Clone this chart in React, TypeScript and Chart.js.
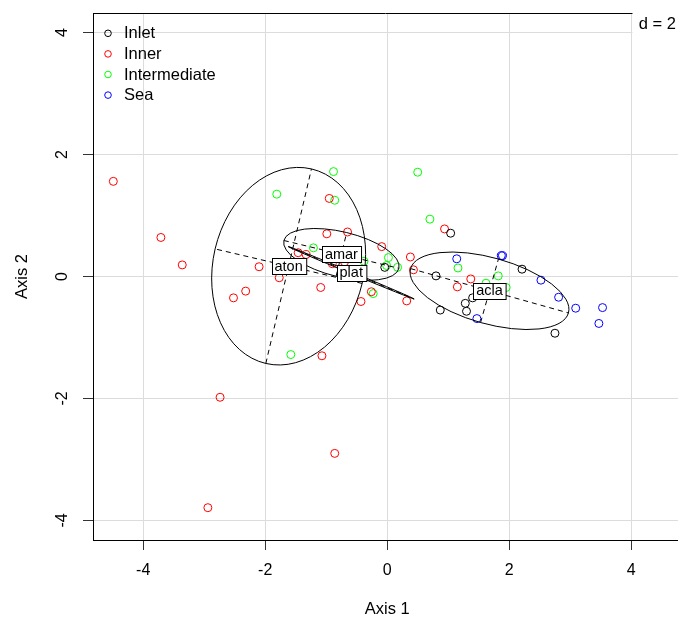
import React, { useEffect, useRef } from 'react';
import { Chart, registerables } from 'chart.js';

Chart.register(...registerables);

// ---------- data ----------
const groupNames = ['Inlet', 'Inner', 'Intermediate', 'Sea'];
const groupColors = ['#000000', '#FF0000', '#00FF00', '#0000FF'];

const inletPoints: [number, number][] = [
  [-0.04, 0.15], [1.04, 0.71], [0.80, 0.01], [2.21, 0.12], [1.40, -0.35],
  [1.28, -0.44], [1.30, -0.57], [0.87, -0.55], [2.75, -0.93],
];
const innerPoints: [number, number][] = [
  [-4.49, 1.56], [-3.71, 0.64], [-3.36, 0.19], [-2.94, -3.79], [-2.74, -1.98],
  [-2.52, -0.35], [-2.32, -0.24], [-2.10, 0.16], [-1.77, -0.02], [-1.46, 0.39],
  [-1.33, 0.36], [-1.09, -0.18], [-0.95, 1.28], [-0.99, 0.70], [-0.65, 0.73],
  [-0.90, 0.21], [-0.70, 0.24], [-0.09, 0.49], [0.38, 0.32], [0.43, 0.11],
  [-0.26, -0.25], [-0.43, -0.41], [0.32, -0.40], [-1.07, -1.30], [-0.86, -2.90],
  [0.94, 0.78], [1.37, -0.04], [1.15, -0.17],
];
const intermediatePoints: [number, number][] = [
  [-1.81, 1.35], [-0.88, 1.72], [-0.86, 1.25], [0.50, 1.71], [0.70, 0.94],
  [-1.21, 0.47], [0.02, 0.31], [-0.01, 0.18], [0.17, 0.15], [-0.38, 0.25],
  [-0.23, -0.28], [-1.58, -1.28], [1.16, 0.14], [1.82, 0.01], [1.62, -0.11],
  [1.95, -0.18],
];
const seaPoints: [number, number][] = [
  [1.14, 0.29], [1.87, 0.34], [1.89, 0.34], [2.52, -0.06], [2.81, -0.34],
  [3.09, -0.52], [3.53, -0.51], [3.47, -0.77], [1.47, -0.69],
];
const groupPoints = [inletPoints, innerPoints, intermediatePoints, seaPoints];

// class ellipses
const ellipseNames = ['aton', 'amar', 'plat', 'acla'];
const ellipseCenterX = [-1.616, -0.751, -0.590, 1.677];
const ellipseCenterY = [0.169, 0.362, 0.061, -0.234];
const ellipseMajor = [1.638, 0.970, 1.117, 1.344];
const ellipseMinor = [1.238, 0.369, 0.015, 0.541];
const ellipseAngleDeg = [76.8, -13.6, -22.6, -15.7];

const xTicks = [-4, -2, 0, 2, 4];
const yTicks = [-4, -2, 0, 2, 4];
const xTickLabels = ['-4', '-2', '0', '2', '4'];
const yTickLabels = ['-4', '-2', '0', '2', '4'];
const xTitle = 'Axis 1';
const yTitle = 'Axis 2';
const scaleNote = 'd = 2';

const X_MIN = -4.823;
const X_MAX = 4.767;
const Y_MIN = -4.32;
const Y_MAX = 4.32;

const FONT = '"Liberation Sans", Arial, Helvetica, sans-serif';

const decorPlugin = {
  id: 'decor',
  afterDatasetsDraw(chart: any) {
    const { ctx, chartArea } = chart;
    const xs = chart.scales.x;
    const ys = chart.scales.y;
    ctx.save();
    ctx.beginPath();
    ctx.rect(chartArea.left, chartArea.top, chartArea.right - chartArea.left, chartArea.bottom - chartArea.top);
    ctx.clip();
    ctx.strokeStyle = '#000';
    ctx.lineWidth = 1;
    for (let i = 0; i < ellipseNames.length; i++) {
      const th = (ellipseAngleDeg[i] * Math.PI) / 180;
      const ex = ellipseCenterX[i];
      const ey = ellipseCenterY[i];
      const a = ellipseMajor[i];
      const b = ellipseMinor[i];
      const cx = xs.getPixelForValue(ex);
      const cy = ys.getPixelForValue(ey);
      const ax = xs.getPixelForValue(ex + a * Math.cos(th)) - cx;
      const ay = ys.getPixelForValue(ey + a * Math.sin(th)) - cy;
      const bx = xs.getPixelForValue(ex - b * Math.sin(th)) - cx;
      const by = ys.getPixelForValue(ey + b * Math.cos(th)) - cy;
      const ra = Math.hypot(ax, ay);
      const rb = Math.max(Math.hypot(bx, by), 0.3);
      const rot = Math.atan2(ay, ax);
      ctx.setLineDash([]);
      ctx.beginPath();
      ctx.ellipse(cx, cy, ra, rb, rot, 0, Math.PI * 2);
      ctx.stroke();
      ctx.setLineDash([5, 4]);
      ctx.beginPath();
      ctx.moveTo(cx - ax, cy - ay);
      ctx.lineTo(cx + ax, cy + ay);
      ctx.moveTo(cx - bx, cy - by);
      ctx.lineTo(cx + bx, cy + by);
      ctx.stroke();
    }
    ctx.setLineDash([]);
    // labels
    ctx.font = `14.5px ${FONT}`;
    ctx.textAlign = 'center';
    ctx.textBaseline = 'middle';
    for (let i = 0; i < ellipseNames.length; i++) {
      const cx = xs.getPixelForValue(ellipseCenterX[i]);
      const cy = ys.getPixelForValue(ellipseCenterY[i]);
      const tw = ctx.measureText(ellipseNames[i]).width;
      const w = tw + 6;
      const h = 16;
      const l = Math.round(cx - w / 2) + 0.5;
      const t = Math.round(cy - h / 2) + 0.5;
      ctx.fillStyle = '#fff';
      ctx.fillRect(l, t, w, h);
      ctx.strokeStyle = '#000';
      ctx.strokeRect(l, t, w, h);
      ctx.fillStyle = '#000';
      ctx.fillText(ellipseNames[i], cx, cy + 0.5);
    }
    ctx.restore();
  },
  afterDraw(chart: any) {
    const { ctx, chartArea } = chart;
    const xs = chart.scales.x;
    const ys = chart.scales.y;
    ctx.save();
    // top border
    ctx.strokeStyle = '#000';
    ctx.lineWidth = 1;
    ctx.beginPath();
    ctx.moveTo(chartArea.left, Math.round(chartArea.top) + 0.5);
    ctx.lineTo(chartArea.right, Math.round(chartArea.top) + 0.5);
    ctx.stroke();
    // d = 2 box
    ctx.fillStyle = '#fff';
    ctx.fillRect(632.5, 11, 50, 25);
    ctx.fillStyle = '#000';
    ctx.font = `16.5px ${FONT}`;
    ctx.textAlign = 'right';
    ctx.textBaseline = 'middle';
    ctx.fillText(scaleNote, 676, 24);
    // legend
    ctx.textAlign = 'left';
    for (let i = 0; i < groupNames.length; i++) {
      const yy = 33.3 + i * 20.6;
      ctx.strokeStyle = groupColors[i];
      ctx.lineWidth = 1;
      ctx.beginPath();
      ctx.arc(108, yy, 3.3, 0, Math.PI * 2);
      ctx.stroke();
      ctx.fillStyle = '#000';
      ctx.fillText(groupNames[i], 124, yy + 0.5);
    }
    // tick labels
    ctx.font = `16px ${FONT}`;
    ctx.textAlign = 'center';
    ctx.textBaseline = 'middle';
    ctx.fillStyle = '#000';
    for (let i = 0; i < xTicks.length; i++) {
      ctx.fillText(xTickLabels[i], xs.getPixelForValue(xTicks[i]), 571);
    }
    for (let i = 0; i < yTicks.length; i++) {
      const py = ys.getPixelForValue(yTicks[i]);
      ctx.save();
      ctx.translate(62.5, py);
      ctx.rotate(-Math.PI / 2);
      ctx.fillText(yTickLabels[i], 0, 0);
      ctx.restore();
    }
    // axis titles
    ctx.font = `16.5px ${FONT}`;
    ctx.fillText(xTitle, xs.getPixelForValue(0), 609);
    ctx.save();
    ctx.translate(22, ys.getPixelForValue(0));
    ctx.rotate(-Math.PI / 2);
    ctx.fillText(yTitle, 0, 0);
    ctx.restore();
    ctx.restore();
  },
};

export default function App() {
  const ref = useRef<HTMLCanvasElement | null>(null);
  useEffect(() => {
    if (!ref.current) return;
    const chart = new Chart(ref.current, {
      type: 'scatter',
      data: {
        datasets: groupNames.map((name, i) => ({
          label: name,
          data: groupPoints[i].map(([x, y]) => ({ x, y })),
          borderColor: groupColors[i],
          backgroundColor: 'rgba(0,0,0,0)',
          pointRadius: 4,
          pointBorderWidth: 1,
          pointStyle: 'circle',
          showLine: false,
        })),
      },
      options: {
        animation: false,
        responsive: false,
        devicePixelRatio: 1,
        layout: { autoPadding: false, padding: { top: 13, right: 0, bottom: 0, left: 0 } },
        plugins: {
          legend: { display: false },
          tooltip: { enabled: false },
          title: { display: false },
        },
        scales: {
          x: {
            type: 'linear',
            min: X_MIN,
            max: X_MAX,
            afterBuildTicks: (s: any) => {
              s.ticks = xTicks.map((v) => ({ value: v }));
            },
            afterFit: (s: any) => {
              s.height = 79;
              s.paddingLeft = 0;
              s.paddingRight = 0;
            },
            ticks: { display: false },
            grid: {
              color: '#dcdcdc',
              lineWidth: 1,
              drawTicks: true,
              tickLength: 10,
              tickColor: '#333',
            },
            border: { display: true, color: '#000', width: 1 },
          },
          y: {
            type: 'linear',
            min: Y_MIN,
            max: Y_MAX,
            afterBuildTicks: (s: any) => {
              s.ticks = yTicks.map((v) => ({ value: v }));
            },
            afterFit: (s: any) => {
              s.width = 93;
              s.paddingTop = 0;
              s.paddingBottom = 0;
            },
            ticks: { display: false },
            grid: {
              color: '#dcdcdc',
              lineWidth: 1,
              drawTicks: true,
              tickLength: 10,
              tickColor: '#333',
            },
            border: { display: true, color: '#000', width: 1 },
          },
        },
      },
      plugins: [decorPlugin],
    } as any);
    return () => chart.destroy();
  }, []);
  return (
    <div style={{ position: 'absolute', left: 0, top: 0, width: 678, height: 619, background: '#fff' }}>
      <canvas ref={ref} width={678} height={619} style={{ display: 'block' }} />
    </div>
  );
}
